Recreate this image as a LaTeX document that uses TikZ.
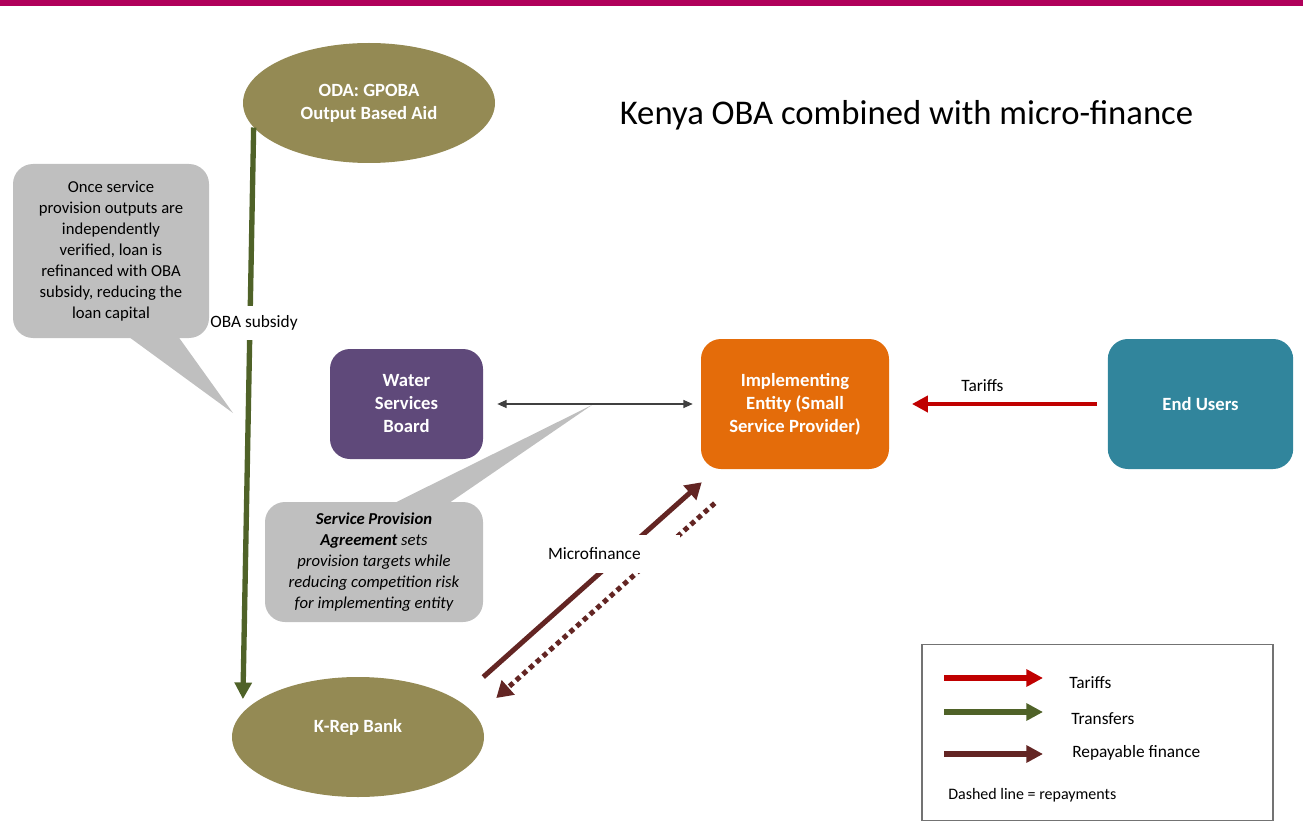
\documentclass[tikz,border=0pt]{standalone}
\usepackage{fontspec}
\setmainfont{Carlito}
\usetikzlibrary{arrows.meta,calc,shapes.geometric}

\definecolor{barmagenta}{RGB}{176,0,90}
\definecolor{obaolive}{RGB}{148,138,84}
\definecolor{wsbpurple}{RGB}{95,73,122}
\definecolor{implorange}{RGB}{228,108,10}
\definecolor{userteal}{RGB}{49,133,156}
\definecolor{notegray}{RGB}{191,191,191}
\definecolor{tariffred}{RGB}{192,0,0}
\definecolor{transfergreen}{RGB}{79,98,40}
\definecolor{loanbrown}{RGB}{99,37,35}
\definecolor{linkgray}{RGB}{64,64,64}

\begin{document}
\begin{tikzpicture}[x=0.75pt, y=-0.75pt,
        oval/.style={ellipse, fill=obaolive, text=white, font=\bfseries\fontsize{14}{17.25}\selectfont, align=center, minimum width=189pt, minimum height=90pt, inner sep=0pt},
        box/.style={rectangle, rounded corners=15pt, text=white, font=\bfseries\fontsize{14}{17.25}\selectfont, align=center, inner sep=0pt},
        note/.style={rectangle, rounded corners=15pt, fill=notegray, font=\fontsize{12.5}{15.75}\selectfont, align=center, inner sep=0pt},
        tag/.style={font=\fontsize{13}{15.6}\selectfont},
        keytext/.style={font=\fontsize{13}{15.6}\selectfont, anchor=base west, inner sep=0pt},
        transfer/.style={draw=transfergreen, line width=4pt, -{Triangle[length=12.5pt, width=12.5pt]}},
        tariff/.style={draw=tariffred, line width=3.5pt, -{Triangle[length=12pt, width=12pt]}},
        loan/.style={draw=loanbrown, line width=3.75pt, -{Triangle[length=12pt, width=14pt]}},
        repay/.style={loan, dash pattern=on 3.75pt off 3pt},
        link/.style={draw=linkgray, line width=1pt, {Triangle[length=7pt, width=6pt]}-{Triangle[length=7pt, width=6pt]}}
    ]
    \useasboundingbox (0,0) rectangle (1303,838);

    % Slide bar and title
    \fill[barmagenta] (0,0) rectangle (1303,6);
    \node[font=\fontsize{26}{31}\selectfont, anchor=base] (title) at (906.5,125) {Kenya OBA combined with micro-finance};

    % Define actors
    \node[oval] (oda) at (369,103) {ODA: GPOBA\\Output Based Aid};
    \node[oval, text depth=17pt] (krep) at (358,737) {K-Rep Bank};
    \node[box, fill=wsbpurple, minimum width=114.75pt, minimum height=82.5pt] (wsb) at (406.5,404) {Water\\Services\\Board};
    \node[box, fill=implorange, minimum width=141pt, minimum height=97.5pt] (impl) at (795,404) {Implementing\\Entity (Small\\Service Provider)};
    \node[box, fill=userteal, minimum width=139pt, minimum height=97.5pt] (users) at (1200.5,404) {End Users};

    % Callouts
    \node[note, minimum width=147pt, minimum height=130.5pt] (refinance) at (111,251) {Once service\\provision outputs are\\independently\\verified, loan is\\refinanced with OBA\\subsidy, reducing the\\loan capital};
    \node[note, minimum width=163.5pt, minimum height=90pt, font=\itshape\fontsize{12.5}{15.75}\selectfont] (spa) at (374,562) {\textbf{Service Provision}\\\textbf{Agreement} sets\\provision targets while\\reducing competition risk\\for implementing entity};
    \coordinate (refinanceTip) at (233,413);
    \coordinate (spaTip) at (592,405);
    \fill[notegray] ($(refinance.south)+(17,-2)$) -- (refinanceTip) -- ($(refinance.south)+(67,-2)$) -- cycle;
    \fill[notegray] ($(spa.north)+(19,2)$) -- (spaTip) -- ($(spa.north)+(74,2)$) -- cycle;

    % Flows
    \draw[transfer, shorten >=10pt] (oda.192) -- node[tag, fill=white, pos=0.334, xshift=3pt, inner xsep=0.5pt, minimum height=26pt] (obaLabel) {OBA subsidy} (krep.168);
    \draw[link, shorten <=10.5pt, shorten >=6pt] (wsb) -- (impl);
    \draw[tariff, shorten <=8pt, shorten >=17pt] (users) -- node[tag, above=4pt, pos=0.573] (tariffLabel) {Tariffs} (impl);
    \draw[loan] ($(krep.east)+(-1,-60)$) -- ($(impl.south west)+(1,13)$);
    \draw[repay] ($(impl.south west)+(14,34)$) -- ($(krep.east)+(12,-39)$);
    \node[tag, fill=white, text width=99pt, align=left, minimum height=28.5pt, inner sep=0pt] (mfLabel) at (614,554) {Microfinance};

    % Legend
    \node[draw=black!55, line width=0.9pt, minimum width=263.25pt, minimum height=132pt, inner sep=0pt] (legend) at (1097.5,732.5) {};
    \coordinate (keyTariffs) at (944,678);
    \coordinate (keyTransfers) at (944,712);
    \coordinate (keyFinance) at (944,754);
    \draw[tariff, line width=4.5pt, -{Triangle[length=12.5pt, width=12.5pt]}] (keyTariffs) -- ++(99,0);
    \draw[transfer, line width=4.5pt] (keyTransfers) -- ++(99,0);
    \draw[loan, line width=4.5pt, -{Triangle[length=12.5pt, width=12.5pt]}] (keyFinance) -- ++(99,0);
    \node[keytext] (tariffKey) at (1069,688) {Tariffs};
    \node[keytext] (transferKey) at (1071,724) {Transfers};
    \node[keytext] (financeKey) at (1072,757) {Repayable finance};
    \node[keytext, font=\fontsize{12}{14.4}\selectfont] (dashKey) at (948,799) {Dashed line = repayments};

\end{tikzpicture}
\end{document}
